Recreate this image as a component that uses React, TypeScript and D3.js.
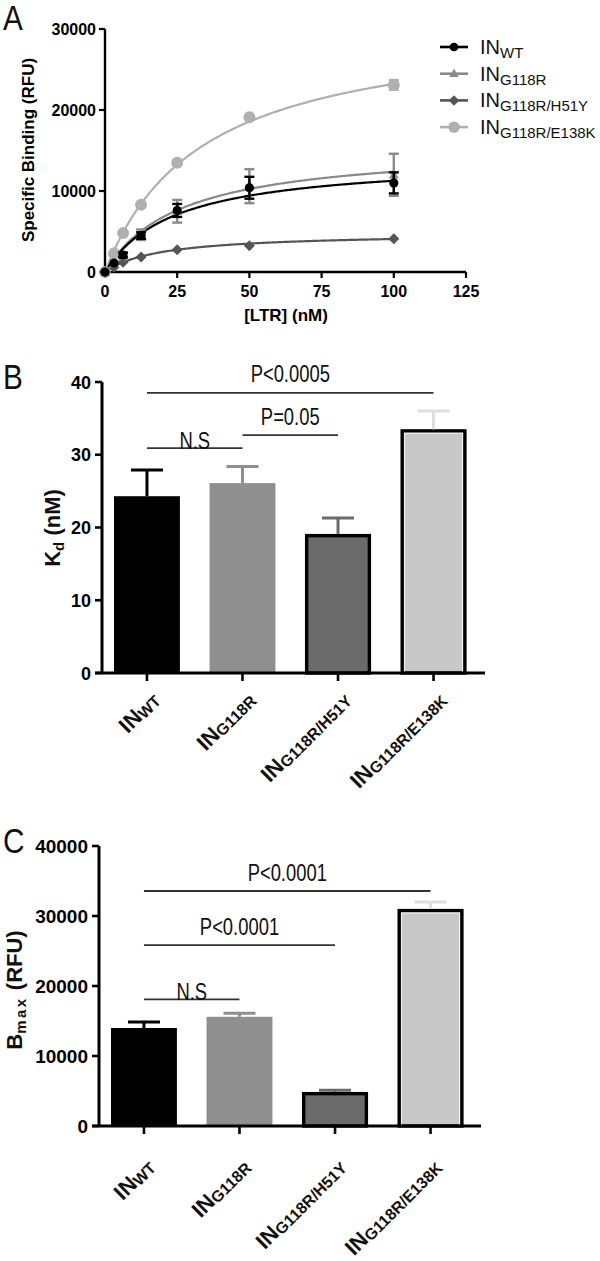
import React from 'react';
import * as d3 from 'd3';

// ---------- Panel A data ----------
const concentrations = [0, 3.125, 6.25, 12.5, 25, 50, 100];
const wtBinding = [0, 1100, 2100, 4500, 7600, 10400, 11000];
const wtBindingErr = [0, 0, 300, 400, 800, 1350, 1300];
const g118rBinding = [0, 1000, 1900, 4600, 7500, 10600, 12000];
const g118rBindingErr = [0, 0, 0, 650, 1400, 2100, 2600];
const h51yBinding = [0, 600, 1200, 1850, 2750, 3250, 4100];
const h51yBindingErr = [0, 0, 0, 0, 0, 0, 0];
const e138kBinding = [0, 2300, 4800, 8300, 13500, 19100, 23100];
const e138kBindingErr = [0, 0, 0, 0, 0, 0, 600];
const bindingTicks = [0, 10000, 20000, 30000];
const ltrTicks = [0, 25, 50, 75, 100, 125];

// ---------- Panel B / C data ----------
const categories = ['WT', 'G118R', 'G118R/H51Y', 'G118R/E138K'];
const kdValues = [24.3, 26.1, 19.1, 33.5];
const kdErrors = [3.6, 2.3, 2.2, 2.5];
const kdTicks = [0, 10, 20, 30, 40];
const bmaxValues = [14000, 15600, 4850, 31000];
const bmaxErrors = [850, 500, 250, 1000];
const bmaxTicks = [0, 10000, 20000, 30000, 40000];

const kdComparisons = [
  { from: 0, to: 1, label: 'N.S', level: 30.9 },
  { from: 1, to: 2, label: 'P=0.05', level: 32.7 },
  { from: 0, to: 3, label: 'P<0.0005', level: 38.5 },
];
const bmaxComparisons = [
  { from: 0, to: 1, label: 'N.S', level: 18100 },
  { from: 0, to: 2, label: 'P<0.0001', level: 25850 },
  { from: 0, to: 3, label: 'P<0.0001', level: 33570 },
];

const SANS = '"Liberation Sans", Arial, Helvetica, sans-serif';

const lineColors = ['#000000', '#8a8a8a', '#555555', '#b0b0b0'];
const barFills = ['#000000', '#8f8f8f', '#6b6b6b', '#c8c8c8'];
const barStrokes = ['none', 'none', '#000000', '#000000'];
const errColors = ['#000000', '#8f8f8f', '#6b6b6b', '#dedede'];

function Marker({ kind, x, y, color, s = 1 }: { kind: number; x: number; y: number; color: string; s?: number }) {
  if (kind === 0) return <circle cx={x} cy={y} r={4.6 * s} fill={color} />;
  if (kind === 1) {
    const h = 9 * s;
    return <path d={`M${x},${y - h * 0.6} L${x + h * 0.55},${y + h * 0.4} L${x - h * 0.55},${y + h * 0.4} Z`} fill={color} />;
  }
  if (kind === 2) {
    const h = 5.5 * s;
    return <path d={`M${x},${y - h} L${x + h},${y} L${x},${y + h} L${x - h},${y} Z`} fill={color} />;
  }
  return <circle cx={x} cy={y} r={6 * s} fill={color} />;
}

function Sub({ main, sub, mainSize, subSize, dy }: any) {
  return (
    <>
      <tspan fontSize={mainSize}>{main}</tspan>
      <tspan fontSize={subSize} dy={dy}>{sub}</tspan>
    </>
  );
}

function Letter({ ch, y }: { ch: string; y: number }) {
  return (
    <text transform={`translate(3,${y}) scale(0.85,1)`} fontFamily={SANS} fontSize={35} fill="#111">{ch}</text>
  );
}

function PanelA() {
  const x = d3.scaleLinear().domain([0, 125]).range([105, 466]);
  const y = d3.scaleLinear().domain([0, 30000]).range([272, 29]);
  const series = [
    { mean: wtBinding, err: wtBindingErr },
    { mean: g118rBinding, err: g118rBindingErr },
    { mean: h51yBinding, err: h51yBindingErr },
    { mean: e138kBinding, err: e138kBindingErr },
  ];
  const curveX = d3.range(0, 100.01, 0.5);
  const line = d3.line<number>().x((d) => x(d));
  const drawOrder = [3, 2, 1, 0];
  return (
    <g>
      <Letter ch="A" y={30} />
      {/* axes */}
      <line x1={105} x2={105} y1={y(30000)} y2={y(0)} stroke="#000" strokeWidth={2.4} />
      <line x1={105} x2={x(125)} y1={y(0)} y2={y(0)} stroke="#000" strokeWidth={2.4} />
      {bindingTicks.map((t) => (
        <g key={t}>
          <line x1={99} x2={105} y1={y(t)} y2={y(t)} stroke="#000" strokeWidth={2.2} />
          <text x={96} y={y(t) + 6} textAnchor="end" fontFamily={SANS} fontWeight="bold" fontSize={16}>{t}</text>
        </g>
      ))}
      {ltrTicks.map((t) => (
        <g key={t}>
          <line x1={x(t)} x2={x(t)} y1={272} y2={278} stroke="#000" strokeWidth={2.2} />
          <text x={x(t)} y={297} textAnchor="middle" fontFamily={SANS} fontWeight="bold" fontSize={16}>{t}</text>
        </g>
      ))}
      <text x={286} y={321} textAnchor="middle" fontFamily={SANS} fontWeight="bold" fontSize={17}>[LTR] (nM)</text>
      <text transform="translate(34,150) rotate(-90)" textAnchor="middle" fontFamily={SANS} fontWeight="bold" fontSize={17}>
        Specific Binding (RFU)
      </text>
      {/* fitted curves */}
      {drawOrder.map((i) => (
        <path
          key={'c' + i}
          d={line.y((c) => y((bmaxValues[i] * c) / (kdValues[i] + c)))(curveX) || ''}
          fill="none"
          stroke={lineColors[i]}
          strokeWidth={2.2}
        />
      ))}
      {/* error bars and markers */}
      {drawOrder.map((i) => (
        <g key={'m' + i}>
          {concentrations.map((c, j) => {
            const e = series[i].err[j];
            const m = series[i].mean[j];
            return (
              <g key={j}>
                {e > 0 && (
                  <g stroke={lineColors[i]} strokeWidth={2.4}>
                    <line x1={x(c)} x2={x(c)} y1={y(m - e)} y2={y(m + e)} />
                    <line x1={x(c) - 5} x2={x(c) + 5} y1={y(m - e)} y2={y(m - e)} />
                    <line x1={x(c) - 5} x2={x(c) + 5} y1={y(m + e)} y2={y(m + e)} />
                  </g>
                )}
                <Marker kind={i} x={x(c)} y={y(m)} color={lineColors[i]} />
              </g>
            );
          })}
        </g>
      ))}
      {/* legend */}
      {categories.map((cat, i) => {
        const ly = 47 + i * 26.7;
        return (
          <g key={cat}>
            <line x1={440} x2={468} y1={ly} y2={ly} stroke={lineColors[i]} strokeWidth={2.6} />
            <Marker kind={i} x={454} y={ly} color={lineColors[i]} s={0.95} />
            <text x={480} y={ly + 7} fontFamily={SANS} fill="#111">
              <Sub main="IN" sub={cat} mainSize={20} subSize={15} dy={4} />
            </text>
          </g>
        );
      })}
    </g>
  );
}

function BarPanel({
  letter, letterY, values, errors, ticks, domainMax, yTop, yBottom, xLeft, xRight, tickLabelSize,
  comparisons, labelDx, labelDy, yLabel,
}: any) {
  const x = d3.scaleBand<string>().domain(categories).range([xLeft, xLeft + 382.5]).paddingInner(0.31).paddingOuter(0.157);
  const y = d3.scaleLinear().domain([0, domainMax]).range([yBottom, yTop]);
  const bw = x.bandwidth();
  return (
    <g>
      <Letter ch={letter} y={letterY} />
      {yLabel}
      {/* bars */}
      {categories.map((c, i) => {
        const x0 = x(c) as number;
        const st = barStrokes[i] !== 'none';
        return (
          <g key={c}>
            <rect
              x={st ? x0 + 1.6 : x0}
              width={st ? bw - 3.2 : bw}
              y={y(values[i]) + (st ? 1.6 : 0)}
              height={yBottom - y(values[i]) - (st ? 1.6 : 0)}
              fill={barFills[i]}
              stroke={barStrokes[i]}
              strokeWidth={3.4}
            />
            {st && i === 3 && (
              <rect x={x0 + 4} width={bw - 8} y={y(values[i]) + 4} height={yBottom - y(values[i]) - 4} fill="none" stroke="#f4f4f4" strokeWidth={1} />
            )}
          </g>
        );
      })}
      {/* error bars */}
      {categories.map((c, i) => {
        const cx = (x(c) as number) + bw / 2;
        const top = y(values[i] + errors[i]);
        return (
          <g key={'e' + c} stroke={errColors[i]} strokeWidth={3}>
            <line x1={cx} x2={cx} y1={y(values[i])} y2={top} />
            <line x1={cx - 16} x2={cx + 16} y1={top} y2={top} />
          </g>
        );
      })}
      {/* axes */}
      <line x1={xLeft + 3} x2={xLeft + 3} y1={yTop} y2={yBottom} stroke="#000" strokeWidth={3} />
      <line x1={xLeft - 4} x2={xRight} y1={yBottom} y2={yBottom} stroke="#000" strokeWidth={3} />
      {ticks.map((t: number) => (
        <g key={t}>
          <line x1={xLeft - 4} x2={xLeft + 3} y1={y(t)} y2={y(t)} stroke="#000" strokeWidth={2.6} />
          <text x={xLeft - 8} y={y(t) + 6.5} textAnchor="end" fontFamily={SANS} fontWeight="bold" fontSize={tickLabelSize}>{t}</text>
        </g>
      ))}
      {categories.map((c) => {
        const cx = (x(c) as number) + bw / 2;
        return (
          <g key={'t' + c}>
            <line x1={cx} x2={cx} y1={yBottom} y2={yBottom + 8} stroke="#000" strokeWidth={2.6} />
            <text
              transform={`translate(${cx + labelDx},${yBottom + labelDy}) rotate(-45)`}
              textAnchor="end"
              fontFamily={SANS}
              fontWeight="bold"
              fill="#111"
            >
              <Sub main="IN" sub={c} mainSize={22} subSize={16} dy={1.5} />
            </text>
          </g>
        );
      })}
      {/* significance */}
      {comparisons.map((cmp: any, k: number) => {
        const x1 = (x(categories[cmp.from]) as number) + bw / 2;
        const x2 = (x(categories[cmp.to]) as number) + bw / 2;
        const ly = y(cmp.level);
        const ns = cmp.label === 'N.S';
        return (
          <g key={'s' + k}>
            <line x1={x1} x2={x2} y1={ly} y2={ly} stroke="#333" strokeWidth={1.8} />
            <text
              transform={`translate(${(x1 + x2) / 2},${ns ? ly + 1 : ly - 10.5}) scale(0.8,1)`}
              textAnchor="middle"
              fontFamily={SANS}
              fontSize={23}
              fill="#111"
            >
              {cmp.label}
            </text>
          </g>
        );
      })}
    </g>
  );
}

export default function App() {
  return (
    <svg width={600} height={1261} style={{ position: 'absolute', left: 0, top: 0, background: '#fff' }}>
      <rect width={600} height={1261} fill="#fff" />
      <PanelA />
      <BarPanel
        letter="B"
        letterY={389}
        values={kdValues}
        errors={kdErrors}
        ticks={kdTicks}
        domainMax={40}
        yTop={382}
        yBottom={673}
        xLeft={99}
        xRight={485}
        tickLabelSize={18}
        comparisons={kdComparisons}
        labelDx={14}
        labelDy={28}
        yLabel={
          <text transform="translate(60,528) rotate(-90)" textAnchor="middle" fontFamily={SANS} fontWeight="bold" fill="#111">
            <Sub main="K" sub="d" mainSize={22} subSize={15} dy={4} />
            <tspan fontSize={22} dy={-4}> (nM)</tspan>
          </text>
        }
      />
      <BarPanel
        letter="C"
        letterY={853}
        values={bmaxValues}
        errors={bmaxErrors}
        ticks={bmaxTicks}
        domainMax={40000}
        yTop={846}
        yBottom={1126}
        xLeft={96}
        xRight={481}
        tickLabelSize={19}
        comparisons={bmaxComparisons}
        labelDx={12}
        labelDy={42}
        yLabel={
          <text transform="translate(22,990) rotate(-90)" textAnchor="middle" fontFamily={SANS} fontWeight="bold" fill="#111">
            <tspan fontSize={22}>B</tspan>
            <tspan fontSize={15} dy={4} letterSpacing={2.5}>max</tspan>
            <tspan fontSize={22} dy={-4}> (RFU)</tspan>
          </text>
        }
      />
    </svg>
  );
}
